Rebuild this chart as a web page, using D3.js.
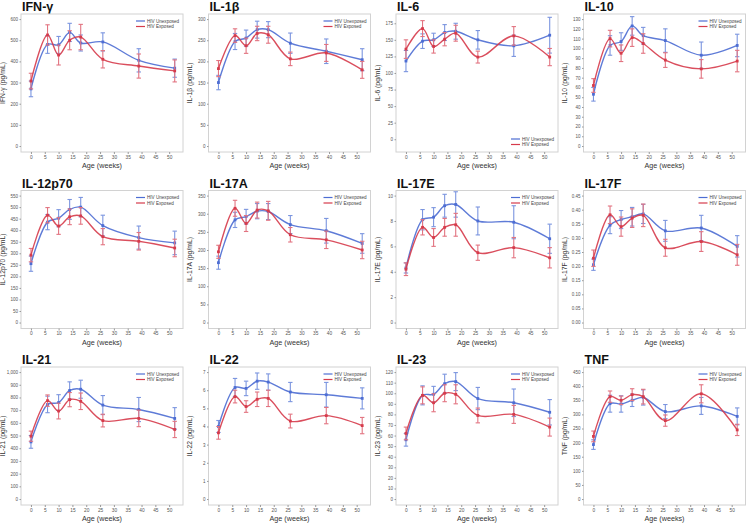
<!DOCTYPE html>
<html><head><meta charset="utf-8">
<script src="https://cdn.jsdelivr.net/npm/d3@7"></script>
<style>body{margin:0;background:#fff}svg{display:block}</style>
</head><body><svg id="c" width="750" height="525"></svg>
<script>
// ---------- DATA ----------
const weeks = [0, 6, 10, 14, 18, 26, 39, 52];
const xTickValues = [0, 5, 10, 15, 20, 25, 30, 35, 40, 45, 50];
const seriesNames = ["HIV Unexposed", "HIV Exposed"];
const titles = ["IFN-γ","IL-1β","IL-6","IL-10","IL-12p70","IL-17A","IL-17E","IL-17F","IL-21","IL-22","IL-23","TNF"];
const yLabels = ["IFN-γ (pg/mL)","IL-1β (pg/mL)","IL-6 (pg/mL)","IL-10 (pg/mL)","IL-12p70 (pg/mL)","IL-17A (pg/mL)","IL-17E (pg/mL)","IL-17F (pg/mL)","IL-21 (pg/mL)","IL-22 (pg/mL)","IL-23 (pg/mL)","TNF (pg/mL)"];
const yTickMax  = [600, 300, 175, 130, 550, 350, 10, 0.45, 1000, 7, 120, 450];
const yTickStep = [100, 50, 25, 10, 50, 50, 2, 0.05, 100, 1, 10, 50];

// mean values and half-width of error bars, per cytokine
const ifngUnexposed = [270, 480, 478, 537, 487, 492, 405, 368];
const ifngUnexposedErr = [37, 42, 40, 43, 38, 43, 55, 43];
const ifngExposed = [307, 525, 430, 500, 515, 410, 378, 355];
const ifngExposedErr = [37, 48, 47, 45, 60, 41, 57, 52];

const il1bUnexposed = [150, 247, 255, 275, 275, 243, 224, 204];
const il1bUnexposedErr = [17, 19, 19, 20, 19, 24, 29, 26];
const il1bExposed = [183, 261, 237, 266, 263, 206, 220, 180];
const il1bExposedErr = [19, 16, 18, 17, 20, 16, 20, 20];

const il6Unexposed = [118, 148, 150, 161, 163, 150, 141, 157];
const il6UnexposedErr = [16, 11, 10, 12, 12, 14, 16, 27];
const il6Exposed = [136, 167, 140, 151, 160, 124, 156, 124];
const il6ExposedErr = [14, 12, 10, 10, 12, 9, 14, 13];

const il10Unexposed = [53, 103, 107, 123, 113, 108, 93, 103];
const il10UnexposedErr = [7, 10, 9, 9.5, 8.5, 12, 13.5, 11.5];
const il10Exposed = [62, 110, 95, 111, 105, 88, 79, 87];
const il10ExposedErr = [7, 8.5, 8.5, 9, 10, 7.5, 9.5, 11];

const il12Unexposed = [255, 435, 452, 490, 500, 420, 368, 345];
const il12UnexposedErr = [33, 33, 37, 43, 42, 45, 50, 51];
const il12Exposed = [292, 465, 418, 458, 462, 372, 352, 323];
const il12ExposedErr = [29, 33, 36, 34, 36, 35, 38, 38];

const il17aUnexposed = [165, 283, 292, 307, 306, 270, 253, 218];
const il17aUnexposedErr = [18, 21, 20, 21, 22, 25, 34, 27];
const il17aExposed = [195, 315, 273, 310, 308, 242, 228, 200];
const il17aExposedErr = [18, 22, 22, 22, 26, 20, 24, 24];

const il17eUnexposed = [4.3, 8.1, 8.3, 9.2, 9.3, 8.0, 7.9, 6.6];
const il17eUnexposedErr = [0.4, 0.8, 0.75, 0.9, 1.0, 1.1, 1.3, 1.15];
const il17eExposed = [4.2, 7.5, 6.7, 7.5, 7.7, 5.5, 5.9, 5.1];
const il17eExposedErr = [0.5, 0.6, 0.7, 0.7, 0.9, 0.6, 0.8, 0.8];

const il17fUnexposed = [0.205, 0.345, 0.365, 0.375, 0.385, 0.325, 0.335, 0.27];
const il17fUnexposedErr = [0.02, 0.03, 0.032, 0.033, 0.034, 0.037, 0.045, 0.038];
const il17fExposed = [0.228, 0.382, 0.34, 0.37, 0.38, 0.265, 0.287, 0.24];
const il17fExposedErr = [0.029, 0.031, 0.034, 0.033, 0.04, 0.03, 0.035, 0.037];

const il21Unexposed = [450, 745, 760, 855, 865, 740, 705, 635];
const il21UnexposedErr = [50, 65, 62, 68, 71, 75, 95, 85];
const il21Exposed = [495, 775, 693, 783, 770, 618, 635, 548];
const il21ExposedErr = [40, 45, 62, 56, 65, 50, 65, 64];

const il22Unexposed = [4.0, 6.15, 6.1, 6.5, 6.45, 5.9, 5.75, 5.55];
const il22UnexposedErr = [0.33, 0.5, 0.4, 0.45, 0.45, 0.53, 0.68, 0.58];
const il22Exposed = [3.65, 5.65, 5.1, 5.5, 5.55, 4.3, 4.6, 4.05];
const il22ExposedErr = [0.35, 0.35, 0.32, 0.4, 0.45, 0.38, 0.45, 0.45];

const il23Unexposed = [56, 98, 99, 109, 111, 95, 91, 82];
const il23UnexposedErr = [6, 9, 7.5, 9, 8.5, 10.5, 13, 12];
const il23Exposed = [62, 98, 91, 100, 99, 79, 80, 68];
const il23ExposedErr = [6, 8, 8.5, 8, 9, 7, 8.5, 8.5];

const tnfUnexposed = [193, 338, 337, 350, 360, 310, 330, 293];
const tnfUnexposedErr = [17, 30, 29, 22, 27, 25, 30, 30];
const tnfExposed = [222, 363, 350, 370, 363, 278, 373, 245];
const tnfExposedErr = [19, 20, 15, 21, 26, 20, 32, 20];

const unexposedValues = [ifngUnexposed, il1bUnexposed, il6Unexposed, il10Unexposed, il12Unexposed, il17aUnexposed, il17eUnexposed, il17fUnexposed, il21Unexposed, il22Unexposed, il23Unexposed, tnfUnexposed];
const unexposedErrors = [ifngUnexposedErr, il1bUnexposedErr, il6UnexposedErr, il10UnexposedErr, il12UnexposedErr, il17aUnexposedErr, il17eUnexposedErr, il17fUnexposedErr, il21UnexposedErr, il22UnexposedErr, il23UnexposedErr, tnfUnexposedErr];
const exposedValues = [ifngExposed, il1bExposed, il6Exposed, il10Exposed, il12Exposed, il17aExposed, il17eExposed, il17fExposed, il21Exposed, il22Exposed, il23Exposed, tnfExposed];
const exposedErrors = [ifngExposedErr, il1bExposedErr, il6ExposedErr, il10ExposedErr, il12ExposedErr, il17aExposedErr, il17eExposedErr, il17fExposedErr, il21ExposedErr, il22ExposedErr, il23ExposedErr, tnfExposedErr];

// ---------- DRAW ----------
const lineColors = ["#4d6dd3", "#d63b4b"];
const barColors = ["#7b95df", "#e27481"];
const FONT = "'Liberation Sans', Arial, sans-serif";
const svg = d3.select("#c").style("font-family", FONT);

titles.forEach((title, i) => {
  const col = i % 4, row = Math.floor(i / 4);
  const fx = 21 + col * 187.5, fy = 14 + row * 176.5, fw = 162, fh = 138;
  const legendBottom = (title === "IL-6");
  const T = yTickMax[i];
  const x = d3.scaleLinear().domain([-3.6, 55]).range([0, fw]);
  const y = d3.scaleLinear()
    .domain(legendBottom ? [-0.11 * T, 1.08 * T] : [-0.047 * T, 1.04 * T])
    .range([fh, 0]);

  // title
  svg.append("text").attr("x", fx + 1).attr("y", fy - 3)
    .attr("font-size", 12.5).attr("font-weight", "bold").attr("fill", "#111").text(title);

  const g = svg.append("g").attr("transform", `translate(${fx},${fy})`);
  g.append("rect").attr("width", fw).attr("height", fh)
    .attr("fill", "#fff").attr("stroke", "#d2d2d2").attr("stroke-width", 1);

  const fmt = T < 1 ? d3.format(".2f") : d3.format(",");
  const yTicks = d3.range(0, T + yTickStep[i] / 2, yTickStep[i]);
  const ya = d3.axisLeft(y).tickValues(yTicks).tickFormat(fmt).tickSize(1.5).tickPadding(1.5);
  g.append("g").call(ya).call(s => {
    s.select(".domain").remove();
    s.selectAll("line").attr("stroke", "#999");
    s.selectAll("text").attr("font-size", 4.5).attr("fill", "#555").attr("font-family", FONT);
  });
  const xa = d3.axisBottom(x).tickValues(xTickValues).tickSize(2).tickPadding(1.5);
  g.append("g").attr("transform", `translate(0,${fh})`).call(xa).call(s => {
    s.select(".domain").remove();
    s.selectAll("line").attr("stroke", "#999");
    s.selectAll("text").attr("font-size", 4.8).attr("fill", "#555").attr("font-family", FONT);
  });

  // axis labels
  g.append("text").attr("x", fw / 2).attr("y", fh + 16).attr("text-anchor", "middle")
    .attr("font-size", 7.2).attr("fill", "#333").text("Age (weeks)");
  g.append("text").attr("transform", `translate(${-16.5},${fh / 2}) rotate(-90)`)
    .attr("text-anchor", "middle").attr("font-size", 6.8).attr("fill", "#333").text(yLabels[i]);

  // series
  const seriesSets = [[unexposedValues[i], unexposedErrors[i]], [exposedValues[i], exposedErrors[i]]];
  seriesSets.forEach(([vals, errs], s) => {
    const pts = weeks.map((w, k) => ({ w, v: vals[k], e: errs[k] }));
    const line = d3.line().x(d => x(d.w)).y(d => y(d.v)).curve(d3.curveCatmullRom.alpha(0.5));
    // error bars
    const eb = g.append("g").attr("stroke", barColors[s]).attr("stroke-width", 1.1);
    pts.forEach(d => {
      const cx = x(d.w);
      eb.append("line").attr("x1", cx).attr("x2", cx).attr("y1", y(d.v - d.e)).attr("y2", y(d.v + d.e));
      eb.append("line").attr("x1", cx - 2.2).attr("x2", cx + 2.2).attr("y1", y(d.v - d.e)).attr("y2", y(d.v - d.e));
      eb.append("line").attr("x1", cx - 2.2).attr("x2", cx + 2.2).attr("y1", y(d.v + d.e)).attr("y2", y(d.v + d.e));
    });
    g.append("path").datum(pts).attr("d", line).attr("fill", "none")
      .attr("stroke", lineColors[s]).attr("stroke-width", 1.4).attr("opacity", 0.9);
    g.selectAll(null).data(pts).enter().append("rect")
      .attr("x", d => x(d.w) - 1.4).attr("y", d => y(d.v) - 1.4)
      .attr("width", 2.8).attr("height", 2.8).attr("fill", lineColors[s]);
  });

  // legend
  const ly0 = legendBottom ? fh - 13 : 7;
  const lx = fw - 47;
  seriesNames.forEach((n, s) => {
    const ly = ly0 + s * 5.5;
    g.append("line").attr("x1", lx).attr("x2", lx + 9).attr("y1", ly).attr("y2", ly)
      .attr("stroke", lineColors[s]).attr("stroke-width", 1.2);
    g.append("text").attr("x", lx + 11).attr("y", ly + 1.6).attr("font-size", 4.6)
      .attr("fill", "#444").text(n);
  });
});
</script></body></html>
